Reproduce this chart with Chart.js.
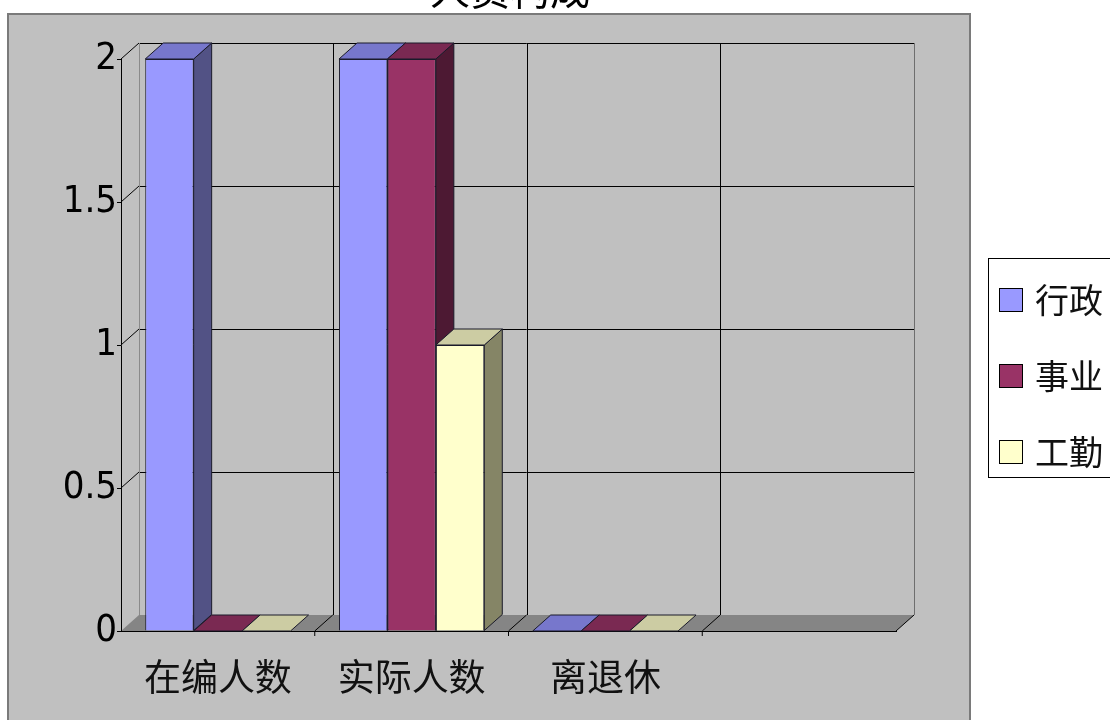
<!DOCTYPE html>
<html>
<head>
<meta charset="utf-8">
<script src="https://cdn.jsdelivr.net/npm/chart.js@4/dist/chart.umd.min.js"></script>
<style>
html,body{margin:0;padding:0;background:#fff;}
canvas{display:block;}
</style>
</head>
<body>
<canvas id="c" width="1110" height="720"></canvas>
<script>
// ---- data ----
const titleText = '人员构成';
const categories = ['在编人数', '实际人数', '离退休', ''];
const seriesNames = ['行政', '事业', '工勤'];
const xingzheng = [2, 2, 0, null];
const shiye = [0, 2, 0, null];
const gongqin = [0, 1, 0, null];
const yTicks = [0, 0.5, 1, 1.5, 2];
const yTickLabels = ['0', '0.5', '1', '1.5', '2'];

// ---- styles ----
const frontColors = ['#9999FF', '#993366', '#FFFFCC'];
const topColors = ['#7777CC', '#7A2952', '#CCCCA3'];
const sideColors = ['#525285', '#4D1933', '#858566'];
const DX = 18, DY = 16;
const CJK = '"Noto Sans CJK SC", "Noto Sans", sans-serif';
const NUM = '"Liberation Sans Narrow", "DejaVu Sans Condensed", "Liberation Sans", sans-serif';

const threeD = {
  id: 'threeD',
  beforeDraw(chart) {
    const ctx = chart.ctx;
    const a = chart.chartArea;
    const ys = chart.scales.y;
    ctx.save();
    // grey panel
    ctx.fillStyle = '#C0C0C0';
    ctx.fillRect(8, 14, 962, 706);
    ctx.strokeStyle = '#7A7A7A';
    ctx.lineWidth = 2;
    ctx.beginPath();
    ctx.moveTo(8, 720); ctx.lineTo(8, 14); ctx.lineTo(970, 14); ctx.lineTo(970, 720);
    ctx.stroke();
    // back wall gridlines
    ctx.lineWidth = 1;
    const bl = a.left + DX, br = a.right + DX;
    ctx.strokeStyle = '#000';
    yTicks.forEach(v => {
      if (v === 0) return;
      const y = Math.round(ys.getPixelForValue(v) - DY) + 0.5;
      ctx.beginPath(); ctx.moveTo(bl, y); ctx.lineTo(br, y); ctx.stroke();
      const yf = ys.getPixelForValue(v);
      ctx.beginPath(); ctx.moveTo(a.left, yf); ctx.lineTo(bl, yf - DY); ctx.stroke();
    });
    const topB = ys.getPixelForValue(2) - DY, botB = a.bottom - DY;
    const n = categories.length;
    const step = (a.right - a.left) / n;
    for (let i = 1; i < n; i++) {
      const x = Math.round(a.left + step * i + DX) + 0.5;
      ctx.beginPath(); ctx.moveTo(x, topB); ctx.lineTo(x, botB); ctx.stroke();
    }
    ctx.strokeStyle = '#8A8A8A';
    ctx.beginPath(); ctx.moveTo(bl + 0.5, topB); ctx.lineTo(bl + 0.5, botB); ctx.stroke();
    ctx.strokeStyle = '#6E6E6E';
    ctx.beginPath(); ctx.moveTo(br + 0.5, topB); ctx.lineTo(br + 0.5, botB); ctx.stroke();
    // floor
    ctx.fillStyle = '#858585';
    ctx.beginPath();
    ctx.moveTo(a.left, a.bottom); ctx.lineTo(a.right, a.bottom);
    ctx.lineTo(br, botB); ctx.lineTo(bl, botB); ctx.closePath();
    ctx.fill();
    ctx.strokeStyle = '#000';
    ctx.beginPath(); ctx.moveTo(a.right, a.bottom); ctx.lineTo(br, botB); ctx.stroke();
    for (let i = 1; i < n; i++) {
      const x = a.left + step * i;
      ctx.beginPath(); ctx.moveTo(x, a.bottom); ctx.lineTo(x + DX, botB); ctx.stroke();
      ctx.beginPath(); ctx.moveTo(x, a.bottom); ctx.lineTo(x, a.bottom + 5); ctx.stroke();
    }
    ctx.restore();
  },
  beforeDatasetsDraw(chart) {
    const ctx = chart.ctx;
    const items = [];
    chart.data.datasets.forEach((ds, di) => {
      chart.getDatasetMeta(di).data.forEach((el, i) => {
        if (ds.data[i] === null || ds.data[i] === undefined) return;
        items.push({el, di});
      });
    });
    items.sort((p, q) => p.el.x - q.el.x);
    ctx.save();
    ctx.lineWidth = 1;
    ctx.strokeStyle = '#1A1A2A';
    items.forEach(({el, di}) => {
      const l = el.x - el.width / 2, r = el.x + el.width / 2;
      const t = el.y, b = el.base;
      if (b - t > 0.5) {
        ctx.fillStyle = sideColors[di];
        ctx.beginPath();
        ctx.moveTo(r, t); ctx.lineTo(r + DX, t - DY); ctx.lineTo(r + DX, b - DY); ctx.lineTo(r, b);
        ctx.closePath(); ctx.fill(); ctx.stroke();
      }
      ctx.fillStyle = topColors[di];
      ctx.beginPath();
      ctx.moveTo(l, t); ctx.lineTo(r, t); ctx.lineTo(r + DX, t - DY); ctx.lineTo(l + DX, t - DY);
      ctx.closePath(); ctx.fill(); ctx.stroke();
    });
    ctx.restore();
  },
  afterDraw(chart) {
    const ctx = chart.ctx;
    ctx.save();
    ctx.fillStyle = '#000';
    ctx.font = '40px ' + CJK;
    ctx.textAlign = 'center';
    ctx.textBaseline = 'alphabetic';
    ctx.fillText(titleText, 510, 5);
    // legend
    ctx.strokeStyle = '#000';
    ctx.lineWidth = 1;
    ctx.fillStyle = '#fff';
    ctx.fillRect(988.5, 258.5, 130, 219);
    ctx.strokeRect(988.5, 258.5, 130, 219);
    ctx.font = '34px ' + CJK;
    ctx.textAlign = 'left';
    ctx.textBaseline = 'middle';
    chart.data.datasets.forEach((ds, i) => {
      const cy = 300 + i * 76;
      ctx.fillStyle = frontColors[i];
      ctx.fillRect(999.5, cy - 11.5, 23, 23);
      ctx.strokeRect(999.5, cy - 11.5, 23, 23);
      ctx.fillStyle = '#111';
      ctx.fillText(ds.label, 1035, cy);
    });
    ctx.restore();
  }
};

const seriesData = [xingzheng, shiye, gongqin];
new Chart(document.getElementById('c'), {
  type: 'bar',
  data: {
    labels: categories,
    datasets: seriesNames.map((name, i) => ({
      label: name,
      data: seriesData[i],
      backgroundColor: frontColors[i],
      borderColor: '#1A1A2A',
      borderWidth: 1,
      categoryPercentage: 0.75,
      barPercentage: 1.0
    }))
  },
  options: {
    responsive: false,
    animation: false,
    layout: { padding: { top: 59, right: 214, left: 0, bottom: 0 } },
    plugins: { legend: { display: false }, title: { display: false }, tooltip: { enabled: false } },
    scales: {
      x: {
        grid: { display: false, drawOnChartArea: false, drawTicks: false },
        border: { display: true, color: '#000', width: 1 },
        ticks: { color: '#111', font: { family: CJK, size: 37 }, padding: 24, maxRotation: 0, autoSkip: false },
        afterFit(s) { s.height = 89; }
      },
      y: {
        min: 0, max: 2,
        grid: { drawOnChartArea: false, drawTicks: true, tickLength: 4, color: '#000' },
        border: { display: true, color: '#000', width: 1 },
        ticks: {
          stepSize: 0.5, color: '#000', padding: 0, font: { family: NUM, size: 38 },
          callback(v) { const k = yTicks.indexOf(v); return k >= 0 ? yTickLabels[k] : ''; }
        },
        afterFit(s) { s.width = 121; }
      }
    }
  },
  plugins: [threeD]
});
</script>
</body>
</html>
